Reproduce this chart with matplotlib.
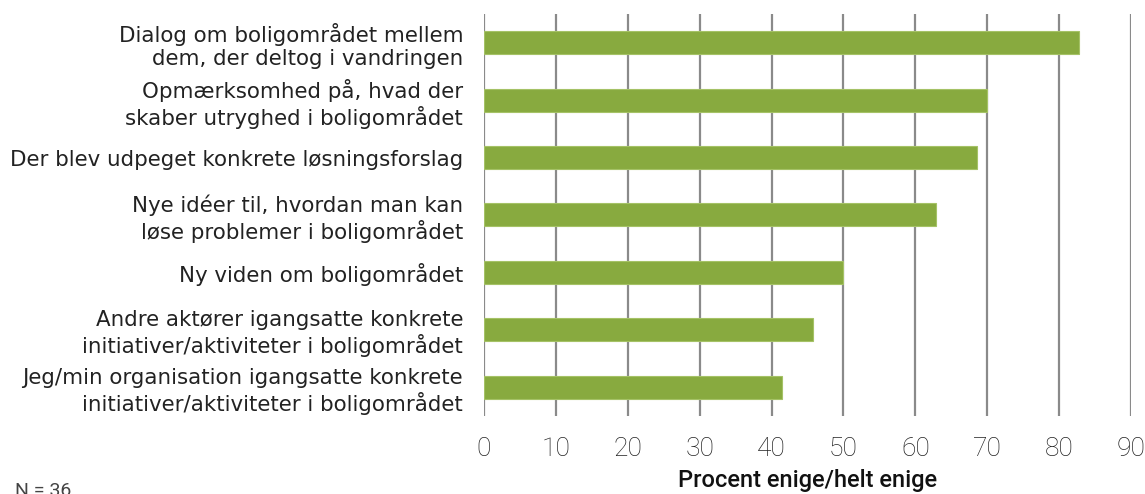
import matplotlib.pyplot as plt

# Svar på spørgsmål om udbyttet af tryghedsvandringen
categories = [
    "Dialog om boligområdet mellem\ndem, der deltog i vandringen",
    "Opmærksomhed på, hvad der\nskaber utryghed i boligområdet",
    "Der blev udpeget konkrete løsningsforslag",
    "Nye idéer til, hvordan man kan\nløse problemer i boligområdet",
    "Ny viden om boligområdet",
    "Andre aktører igangsatte konkrete\ninitiativer/aktiviteter i boligområdet",
    "Jeg/min organisation igangsatte konkrete\ninitiativer/aktiviteter i boligområdet",
]
values = [82.8, 70.0, 68.6, 62.9, 50.0, 45.7, 41.4]
x_ticks = list(range(0, 100, 10))
x_label = "Procent enige/helt enige"
note = "N = 36"

plt.rcParams["font.family"] = ["Roboto", "DejaVu Sans"]

fig = plt.figure(figsize=(11.45, 4.94), dpi=100)
ax = fig.add_axes([0.4227, 0.158, 0.5651, 0.8137])

y = list(range(len(categories)))
ax.barh(y, values, height=0.4, color="#88aa3f", edgecolor="#a5c266", linewidth=0.8, zorder=3)

ax.set_xlim(0, 90)
ax.set_ylim(len(categories) - 0.5, -0.5)
ax.set_xticks(x_ticks)
ax.set_yticks(y)
ax.set_yticklabels(categories, fontsize=15.4, color="#222222", family=["DejaVu Sans"],
                   linespacing=1.2)
ax.tick_params(axis="x", length=0, pad=15, labelsize=19, labelcolor="#222222")
ax.tick_params(axis="y", length=0, pad=15)
for lbl in ax.get_xticklabels():
    lbl.set_fontweight("light")

ax.xaxis.grid(True, color="#8a8a8a", linewidth=1.6, zorder=0)
for s in ax.spines.values():
    s.set_visible(False)

ax.set_xlabel(x_label, fontsize=17, fontweight="medium", color="#111111", labelpad=6)

fig.text(0.013, -0.012, note, fontsize=14, color="#444444", ha="left", va="bottom")

fig.savefig("out.png", dpi=100)
